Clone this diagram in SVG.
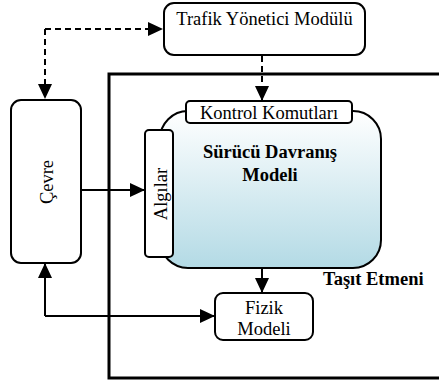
<svg xmlns="http://www.w3.org/2000/svg" width="439" height="380" viewBox="0 0 439 380">
  <style>
    .box { fill: #ffffff; stroke: #000000; stroke-width: 2; }
    .lbl { font-family: "Liberation Serif", "Times New Roman", serif; font-size: 18.5px; fill: #000000; }
    .bold { font-weight: bold; }
    .conn { fill: none; stroke: #000000; stroke-width: 2; }
    .dash { stroke-dasharray: 6 4; }
  </style>
  <defs>
    <marker id="arrow" markerUnits="userSpaceOnUse" markerWidth="15" markerHeight="14" refX="15" refY="7" orient="auto">
      <path d="M0,0 L15,7 L0,14 Z" fill="#000000"/>
    </marker>
    <linearGradient id="blueGrad" x1="0" y1="0" x2="0" y2="1">
      <stop offset="0" stop-color="#ffffff"/>
      <stop offset="1" stop-color="#b3dae5"/>
    </linearGradient>
  </defs>

  <g id="tasit-etmeni">
    <rect x="109" y="74" width="345" height="304" fill="none" stroke="#000000" stroke-width="3"/>
    <text class="lbl bold" x="323" y="285" font-size="19">Taşıt Etmeni</text>
  </g>

  <g id="connectors">
    <path class="conn dash" d="M45,29 L163,29" marker-end="url(#arrow)"/>
    <path class="conn dash" d="M45,29 L45,99" marker-end="url(#arrow)"/>
    <path class="conn dash" d="M262,56 L262,101" marker-end="url(#arrow)"/>
    <path class="conn" d="M81,190 L145,190" marker-end="url(#arrow)"/>
    <path class="conn" d="M262,268 L262,293" marker-end="url(#arrow)"/>
    <path class="conn" d="M45,316 L215,316" marker-end="url(#arrow)"/>
    <path class="conn" d="M45,316 L45,263" marker-end="url(#arrow)"/>
  </g>

  <g id="trafik">
    <rect class="box" x="164" y="3" width="201" height="52" rx="10"/>
    <text class="lbl" x="264.5" y="25" text-anchor="middle">Trafik Yönetici Modülü</text>
  </g>

  <g id="cevre">
    <rect class="box" x="11" y="100" width="70" height="163" rx="10"/>
    <text class="lbl" transform="translate(53,182) rotate(-90)" text-anchor="middle">Çevre</text>
  </g>

  <g id="surucu">
    <rect x="160" y="111" width="221" height="157" rx="28" fill="url(#blueGrad)" stroke="#000000" stroke-width="2"/>
    <text class="lbl bold" x="270" y="158" text-anchor="middle">Sürücü Davranış</text>
    <text class="lbl bold" x="270" y="181" text-anchor="middle">Modeli</text>
  </g>

  <g id="kontrol">
    <rect class="box" x="186" y="101" width="166" height="22" rx="4"/>
    <text class="lbl" x="269" y="119" text-anchor="middle">Kontrol Komutları</text>
  </g>

  <g id="algilar">
    <rect class="box" x="145" y="130" width="28" height="127" rx="4"/>
    <text class="lbl" transform="translate(166.5,194) rotate(-90)" text-anchor="middle">Algılar</text>
  </g>

  <g id="fizik">
    <rect class="box" x="215" y="293" width="98" height="47" rx="8"/>
    <text class="lbl" x="264" y="314" text-anchor="middle">Fizik</text>
    <text class="lbl" x="264" y="335" text-anchor="middle">Modeli</text>
  </g>
</svg>
